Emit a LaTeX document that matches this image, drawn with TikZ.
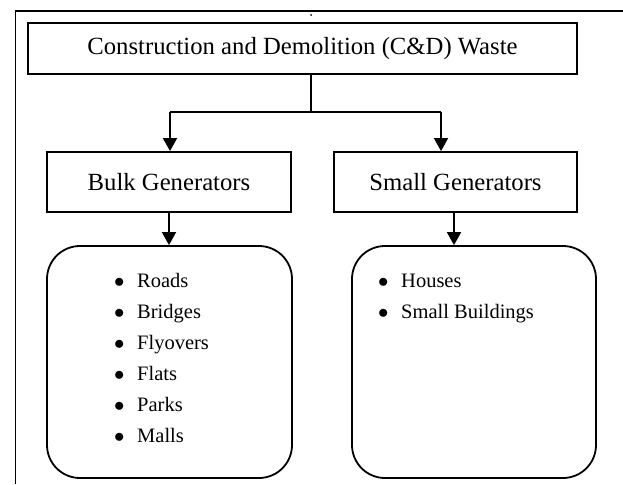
\documentclass[tikz,border=0pt]{standalone}
\usepackage{fontspec}
\setmainfont{Liberation Serif}
\usetikzlibrary{arrows.meta}
\tikzset{
  ln/.style={line width=1.8pt},
  arr/.style={ln,-{Triangle[width=14pt,length=13pt]}},
  box/.style={ln,draw,rectangle,inner sep=0pt,font=\fontsize{24.7}{30}\selectfont},
  rbox/.style={ln,draw,rectangle,rounded corners=33pt,inner sep=0pt},
  item/.style={anchor=base west,inner sep=0pt,font=\fontsize{20.5}{31}\selectfont}
}
\newcommand\bulletmark{\makebox[23pt][l]{$\bullet$}}
\begin{document}
\begin{tikzpicture}[x=1pt,y=-1pt]
\useasboundingbox (0,0) rectangle (623,484);
% frame
\draw[ln] (15.5,484) -- (15.5,11) -- (623,11);
\fill (311,15) circle (1pt);
% boxes
\node[box,minimum width=549pt,minimum height=51.3pt] (top) at (302.5,48.4) {Construction and Demolition (C\&D) Waste};
\node[box,minimum width=244pt,minimum height=60pt] (bulk) at (169,182) {Bulk Generators};
\node[box,minimum width=243pt,minimum height=60pt] (small) at (455.5,182) {Small Generators};
\node[rbox,minimum width=245pt,minimum height=232pt] (lr) at (169.5,362) {};
\node[rbox,minimum width=244pt,minimum height=232pt] (rr) at (474,362) {};
% connectors
\coordinate (j) at (311,112);
\coordinate (jl) at (170,112);
\coordinate (jr) at (441,112);
\draw[ln] (top.south -| j) -- (j);
\draw[ln] (jl) -- (jr);
\draw[arr] (jl) -- (jl |- bulk.north);
\draw[arr] (jr) -- (jr |- small.north);
\coordinate (bl) at (169,212);
\draw[arr] (bulk.south -| bl) -- (bl |- lr.north);
\coordinate (sl) at (454,212);
\draw[arr] (small.south -| sl) -- (sl |- rr.north);
% items
\node[item] (i1) at (114,287) {\bulletmark Roads};
\node[item] (i2) at (114,318) {\bulletmark Bridges};
\node[item] (i3) at (114,349) {\bulletmark Flyovers};
\node[item] (i4) at (114,380) {\bulletmark Flats};
\node[item] (i5) at (114,411) {\bulletmark Parks};
\node[item] (i6) at (114,442) {\bulletmark Malls};
\node[item] (h1) at (378,287) {\bulletmark Houses};
\node[item] (h2) at (378,318) {\bulletmark Small Buildings};
\end{tikzpicture}
\end{document}
